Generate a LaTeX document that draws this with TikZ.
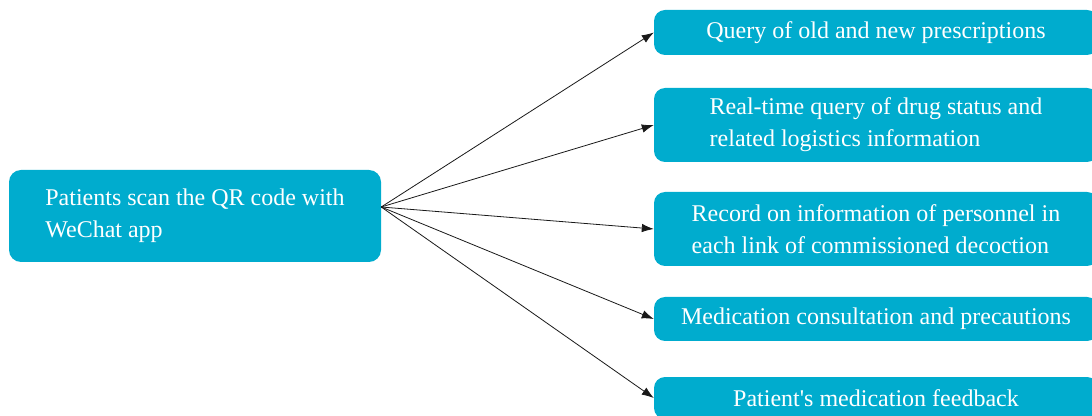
\documentclass[tikz,border=0pt]{standalone}
\usepackage{fontspec}
\setmainfont{Liberation Serif}
\usetikzlibrary{arrows.meta}
\definecolor{boxblue}{RGB}{0,172,206}
\begin{document}
\begin{tikzpicture}[x=1pt,y=1pt,
  box/.style={fill=boxblue,text=white,rounded corners=11pt,align=left,
    font=\fontsize{24}{32}\selectfont,inner sep=0pt},
  conn/.style={draw=black!90,line width=0.8pt,-{Latex[length=12pt,width=8.5pt]}}]
\clip (0,0) rectangle (1092,415);
\node[box,minimum width=372pt,minimum height=92pt,rounded corners=12pt] (L) at (195,199)
  {Patients scan the QR code with\\WeChat app};
\node[box,minimum width=444pt,minimum height=45pt] (b1) at (876,382.5)
  {Query of old and new prescriptions};
\node[box,minimum width=444pt,minimum height=74pt] (b2) at (876,290)
  {Real-time query of drug status and\\related logistics information};
\node[box,minimum width=444pt,minimum height=74pt] (b3) at (876,186)
  {Record on information of personnel in\\each link of commissioned decoction};
\node[box,minimum width=444pt,minimum height=44pt] (b4) at (876,96)
  {Medication consultation and precautions};
\node[box,minimum width=444pt,minimum height=42pt] (b5) at (876,17)
  {Patient\textquotesingle s medication feedback};
\coordinate (src) at ([yshift=9pt]L.east);
\foreach \t in {b1,b2,b3,b4,b5}
  \draw[conn] (src) -- (\t.west);
\end{tikzpicture}
\end{document}
